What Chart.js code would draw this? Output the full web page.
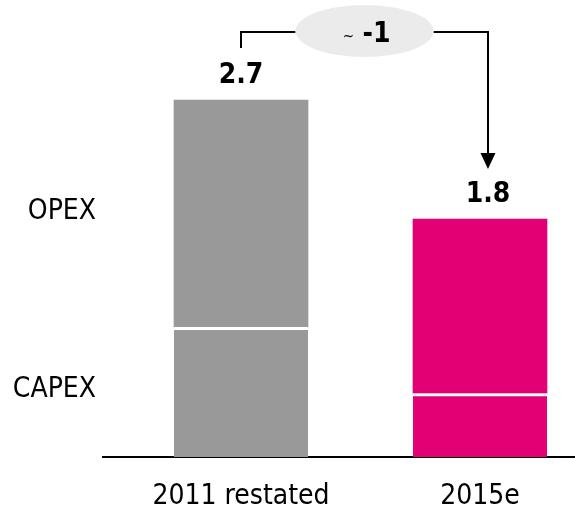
<!DOCTYPE html>
<html>
<head>
<meta charset="utf-8">
<script src="https://cdn.jsdelivr.net/npm/chart.js@4/dist/chart.umd.min.js"></script>
<style>
  html, body { margin: 0; padding: 0; background: #fff; overflow: hidden; }
  #wrap { width: 575px; height: 508px; position: relative; }
</style>
</head>
<body>
<div id="wrap"><canvas id="c"></canvas></div>
<script>
// Cost base, EUR bn, split into CAPEX (bottom) and OPEX (top)
const categories = ['2011 restated', '2015e'];
const capex = [0.98, 0.48];
const opex = [1.72, 1.32];
const barColors = ['#999999', '#E20074'];
const segmentNames = ['CAPEX', 'OPEX'];
const changeLabel = '-1';

// Prefer a condensed face; otherwise fall back to Liberation Sans at a size with the same text width
function pickFont() {
  const probe = document.createElement('canvas').getContext('2d');
  const sample = 'OPEX 2011 restated';
  const widthOf = f => { probe.font = '72px ' + f; return probe.measureText(sample).width; };
  const candidates = ['Liberation Sans Narrow', 'DejaVu Sans Condensed', 'Roboto Condensed', 'Liberation Sans'];
  let family = 'Arial';
  for (const c of candidates) {
    const q = "'" + c + "'";
    if (widthOf(q + ', monospace') !== widthOf('monospace') || widthOf(q + ', serif') !== widthOf('serif')) { family = c; break; }
  }
  probe.font = '100px ' + "'" + family + "'";
  const size = Math.min(28, Math.round(67 / probe.measureText('OPEX').width * 100));
  return { family: "'" + family + "', Arial, sans-serif", size };
}
const F = pickFont();

const totals = categories.map((_, i) => capex[i] + opex[i]);
const toPoints = arr => arr.map((v, i) => ({ x: i, y: v }));

// Totals above the bars, the change bracket, and the segment names on the left
const annotations = {
  id: 'annotations',
  afterDatasetsDraw(chart) {
    const ctx = chart.ctx;
    const area = chart.chartArea;
    const capexMeta = chart.getDatasetMeta(0);
    const opexMeta = chart.getDatasetMeta(1);
    const labelShift = [0, 8];

    ctx.save();
    ctx.fillStyle = '#000';
    ctx.textAlign = 'center';
    ctx.textBaseline = 'middle';
    ctx.font = 'bold ' + F.size + 'px ' + F.family;

    const tops = opexMeta.data.map((bar, i) => ({ x: bar.x + labelShift[i], y: bar.y }));
    tops.forEach((p, i) => ctx.fillText(totals[i].toFixed(1), p.x, p.y - 24));

    // bracket with the ellipse in the middle
    const lineY = 32;
    const a = tops[0], b = tops[1];
    const cx = (a.x + b.x) / 2, cy = 31, rx = 69, ry = 26;
    const tipY = b.y - 50;

    ctx.strokeStyle = '#000';
    ctx.lineWidth = 2;
    ctx.beginPath();
    ctx.moveTo(a.x, a.y - 52);
    ctx.lineTo(a.x, lineY);
    ctx.lineTo(cx - rx, lineY);
    ctx.moveTo(cx + rx, lineY);
    ctx.lineTo(b.x, lineY);
    ctx.lineTo(b.x, tipY - 14);
    ctx.stroke();

    ctx.fillStyle = '#000';
    ctx.beginPath();
    ctx.moveTo(b.x - 7.5, tipY - 16);
    ctx.lineTo(b.x + 7.5, tipY - 16);
    ctx.lineTo(b.x, tipY);
    ctx.closePath();
    ctx.fill();

    ctx.fillStyle = '#ebebeb';
    ctx.beginPath();
    ctx.ellipse(cx, cy, rx, ry, 0, 0, Math.PI * 2);
    ctx.fill();

    ctx.fillStyle = '#000';
    ctx.textBaseline = 'alphabetic';
    ctx.textAlign = 'center';
    ctx.font = '15px ' + F.family;
    ctx.fillText('~', cx - 16, cy + 10);
    ctx.textAlign = 'left';
    ctx.font = 'bold ' + F.size + 'px ' + F.family;
    ctx.fillText(changeLabel, cx - 2, cy + 11);

    // segment names next to the first bar
    ctx.textAlign = 'right';
    ctx.textBaseline = 'middle';
    ctx.font = F.size + 'px ' + F.family;
    const c0 = capexMeta.data[0], o0 = opexMeta.data[0];
    const capexMid = (c0.y + c0.base) / 2;
    const opexMid = (o0.y + o0.base) / 2;
    ctx.fillText(segmentNames[1], area.left - 7, opexMid - 2);
    ctx.fillText(segmentNames[0], area.left - 7, capexMid - 2);
    ctx.restore();
  }
};

new Chart(document.getElementById('c'), {
  type: 'bar',
  data: {
    datasets: [
      {
        label: segmentNames[0],
        data: toPoints(capex),
        backgroundColor: barColors,
        borderColor: '#ffffff',
        borderWidth: { top: 3, left: 0, right: 0, bottom: 0 },
        borderSkipped: false,
        barThickness: 134
      },
      {
        label: segmentNames[1],
        data: toPoints(opex),
        backgroundColor: barColors,
        borderWidth: 0,
        barThickness: 134
      }
    ]
  },
  options: {
    responsive: true,
    maintainAspectRatio: false,
    animation: false,
    layout: { padding: { left: 103, right: 0, top: 0, bottom: 0 } },
    plugins: { legend: { display: false }, tooltip: { enabled: false } },
    scales: {
      x: {
        type: 'linear',
        stacked: true,
        offset: false,
        min: -0.5774,
        max: 1.3975,
        afterBuildTicks: axis => { axis.ticks = categories.map((_, i) => ({ value: i })); },
        afterFit: axis => { axis.height = 51; },
        grid: { display: false, drawTicks: false, offset: false },
        border: { display: true, color: '#000', width: 2 },
        ticks: {
          autoSkip: false,
          maxRotation: 0,
          padding: 23,
          color: '#000',
          font: { family: F.family, size: F.size },
          callback: v => categories[v] ?? ''
        }
      },
      y: {
        display: false,
        stacked: true,
        min: 0,
        max: 3.456
      }
    }
  },
  plugins: [annotations]
});
</script>
</body>
</html>
